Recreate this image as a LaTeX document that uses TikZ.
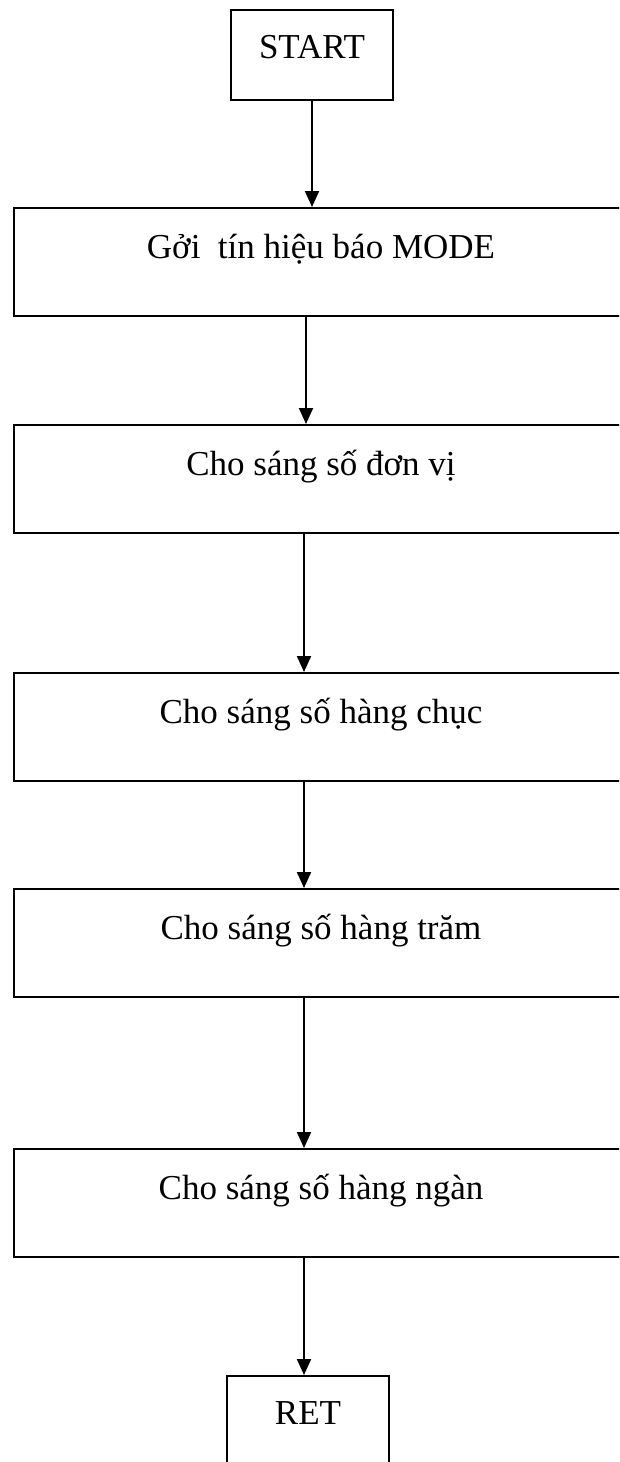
\documentclass[tikz,border=0pt]{standalone}
\usepackage{fontspec}
\setmainfont{Liberation Serif}
\usetikzlibrary{arrows.meta, positioning}

\begin{document}
\begin{tikzpicture}[
  x=1pt, y=-1pt,
  stepbox/.style={draw, line width=2pt, rectangle, inner sep=0pt,
                  minimum width=614pt, text height=50pt, text depth=58pt,
                  anchor=north west, font=\fontsize{35}{40}\selectfont},
  termbox/.style={draw, line width=2pt, rectangle, inner sep=0pt,
                  minimum width=162pt, text height=48pt, text depth=42pt,
                  anchor=north west, font=\fontsize{35}{40}\selectfont},
  flow/.style={-{Triangle[length=16pt,width=14pt]}, line width=2pt},
]
\clip (0,0) rectangle (619,1462);

%% Terminals
\node[termbox] (start) at (230,9) {START};
\node[termbox] (ret) at (226,1375) {RET};

%% Steps
\node[stepbox] (mode)  at (13,207)  {Gởi\ \ tín hiệu báo MODE};
\node[stepbox] (donvi) at (13,424)  {Cho sáng số đơn vị};
\node[stepbox] (chuc)  at (13,672)  {Cho sáng số hàng chục};
\node[stepbox] (tram)  at (13,888)  {Cho sáng số hàng trăm};
\node[stepbox] (ngan)  at (13,1148) {Cho sáng số hàng ngàn};

%% Connectors
\draw[flow] (start.south) -- (start.south |- mode.north);
\draw[flow] ([xshift=-15pt]mode.south) -- ([xshift=-15pt]mode.south |- donvi.north);
\draw[flow] ([xshift=-17pt]donvi.south) -- ([xshift=-17pt]donvi.south |- chuc.north);
\draw[flow] ([xshift=-17pt]chuc.south) -- ([xshift=-17pt]chuc.south |- tram.north);
\draw[flow] ([xshift=-17pt]tram.south) -- ([xshift=-17pt]tram.south |- ngan.north);
\draw[flow] ([xshift=-17pt]ngan.south) -- ([xshift=-17pt]ngan.south |- ret.north);
\end{tikzpicture}
\end{document}
